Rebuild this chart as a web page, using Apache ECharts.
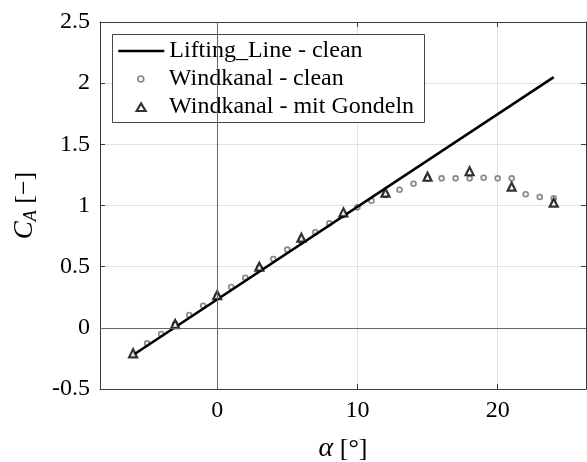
<!DOCTYPE html>
<html>
<head>
<meta charset="utf-8">
<script src="https://cdn.jsdelivr.net/npm/echarts@6/dist/echarts.min.js"></script>
<style>html,body{margin:0;padding:0;background:#fff}#c{width:587px;height:462px}</style>
</head>
<body>
<div id="c"></div>
<script>
// Lifting line (clean)
const liftAlpha = [-6, 24];
const liftCA = [-0.222, 2.05];
// Wind tunnel - clean
const cleanAlpha = [-5,-4,-3,-2,-1,0,1,2,3,4,5,6,7,8,9,10,11,12,13,14,15,16,17,18,19,20,21,22,23,24];
const cleanCA = [-0.127,-0.051,0.03,0.105,0.181,0.26,0.334,0.41,0.49,0.563,0.639,0.71,0.781,0.854,0.922,0.985,1.039,1.086,1.129,1.178,1.222,1.222,1.222,1.222,1.227,1.222,1.222,1.092,1.07,1.059];
// Wind tunnel - with nacelles
const gondAlpha = [-6,-3,0,3,6,9,12,15,18,21,24];
const gondCA = [-0.208,0.031,0.268,0.5,0.737,0.944,1.105,1.235,1.28,1.154,1.023];
const yTicks = ['-0.5','0','0.5','1','1.5','2','2.5'];
const xTicks = ['0','10','20'];
const names = ['Lifting_Line - clean', 'Windkanal - clean', 'Windkanal - mit Gondeln'];

const zip = (a, b) => a.map((v, i) => [v, b[i]]);
const FONT = 'Liberation Serif';
const AX = '#3a3a3a';

const chart = echarts.init(document.getElementById('c'), null, {renderer: 'canvas'});
const baseX = {
  type: 'value', min: -8.36, max: 26.3, splitNumber: 3,
  axisLine: {show: true, onZero: false, lineStyle: {color: AX, width: 1}},
  axisTick: {show: true, inside: true, length: 5, lineStyle: {color: AX}},
  splitLine: {show: false}
};
const baseY = {
  type: 'value', min: -0.5, max: 2.5, interval: 0.5,
  axisLine: {show: true, onZero: false, lineStyle: {color: AX, width: 1}},
  axisTick: {show: true, inside: true, length: 5, lineStyle: {color: AX}},
  splitLine: {show: false}
};
const legendBase = {
  orient: 'vertical', selectedMode: false, itemWidth: 46, padding: 0,
  textStyle: {fontFamily: FONT, fontSize: 24, color: '#000', lineHeight: 26}
};

chart.setOption({
  animation: false,
  backgroundColor: '#fff',
  grid: {left: 100, right: 1, top: 22, bottom: 73, containLabel: false, outerBoundsMode: 'none'},
  xAxis: [
    Object.assign({}, baseX, {
      position: 'bottom',
      name: '{i|α} {n|[°]}', nameLocation: 'middle', nameGap: 46,
      nameTextStyle: {fontFamily: FONT, fontSize: 26, color: '#000',
        rich: {i: {fontFamily: FONT, fontStyle: 'italic', fontSize: 28, color: '#000'},
               n: {fontFamily: FONT, fontSize: 26, color: '#000'}}},
      axisLabel: {show: true, margin: 10, fontFamily: FONT, fontSize: 24, color: '#000',
        showMinLabel: false, showMaxLabel: false,
        formatter: v => xTicks.includes(String(v)) ? String(v) : ''},
      splitLine: {show: true, lineStyle: {color: '#e1e1e1', width: 1}}
    }),
    Object.assign({}, baseX, {position: 'top', axisLabel: {show: false}})
  ],
  yAxis: [
    Object.assign({}, baseY, {
      position: 'left',
      name: '{c|C}{s|A} {n|[−]}', nameLocation: 'middle', nameGap: 60, nameRotate: 90,
      nameTextStyle: {fontFamily: FONT, fontSize: 26, color: '#000',
        rich: {c: {fontFamily: FONT, fontStyle: 'italic', fontSize: 27, color: '#000', lineHeight: 30},
               s: {fontFamily: FONT, fontStyle: 'italic', fontSize: 18, color: '#000', lineHeight: 14, verticalAlign: 'bottom'},
               n: {fontFamily: FONT, fontSize: 26, color: '#000', lineHeight: 30}}},
      axisLabel: {show: true, margin: 10, fontFamily: FONT, fontSize: 24, color: '#000',
        formatter: v => { const s = String(v); return yTicks.includes(s) ? s : ''; }},
      splitLine: {show: true, lineStyle: {color: '#e1e1e1', width: 1}}
    }),
    Object.assign({}, baseY, {position: 'right', axisLabel: {show: false}})
  ],
  legend: [
    Object.assign({}, legendBase, {left: 117, top: 38, itemHeight: 10,
      itemStyle: {color: 'transparent', borderWidth: 0, opacity: 0},
      lineStyle: {color: '#000', width: 2.6},
      data: [names[0]]}),
    Object.assign({}, legendBase, {left: 117, top: 66, itemHeight: 8,
      itemStyle: {borderWidth: 1.6, borderColor: '#6a6a6a', color: '#f4f4f4'},
      data: [{name: names[1], icon: 'path://M0,0M46,8M20,4A3,3,0,1,1,26,4A3,3,0,1,1,20,4Z'}]}),
    Object.assign({}, legendBase, {left: 117, top: 94, itemHeight: 10,
      itemStyle: {borderWidth: 2.2, borderColor: '#000', color: '#fff'},
      data: [{name: names[2], icon: 'path://M0,0M46,10M18.5,9L23,1.5L27.5,9Z'}]})
  ],
  graphic: [{
    type: 'rect', z: 3, zlevel: 0,
    shape: {x: 112.5, y: 34.5, width: 312, height: 88},
    style: {fill: '#fff', stroke: '#444', lineWidth: 1}
  }],
  series: [
    {
      name: names[0], type: 'line', data: zip(liftAlpha, liftCA),
      symbol: 'none', showSymbol: false, z: 3,
      lineStyle: {color: '#000', width: 2.6}, itemStyle: {color: '#000'},
      markLine: {
        silent: true, symbol: 'none', label: {show: false}, animation: false,
        lineStyle: {color: '#666', width: 1, type: 'solid'},
        emphasis: {disabled: true},
        data: [{xAxis: 0}, {yAxis: 0}]
      }
    },
    {
      name: names[1], type: 'scatter', data: zip(cleanAlpha, cleanCA),
      symbol: 'circle', symbolSize: 5, z: 2,
      itemStyle: {color: '#f4f4f4', borderColor: '#6a6a6a', borderWidth: 1.6}
    },
    {
      name: names[2], type: 'scatter', data: zip(gondAlpha, gondCA),
      symbol: 'triangle', symbolSize: 8, z: 4,
      itemStyle: {color: '#fff', borderColor: '#000', borderWidth: 2.2}
    }
  ]
});
</script>
</body>
</html>
